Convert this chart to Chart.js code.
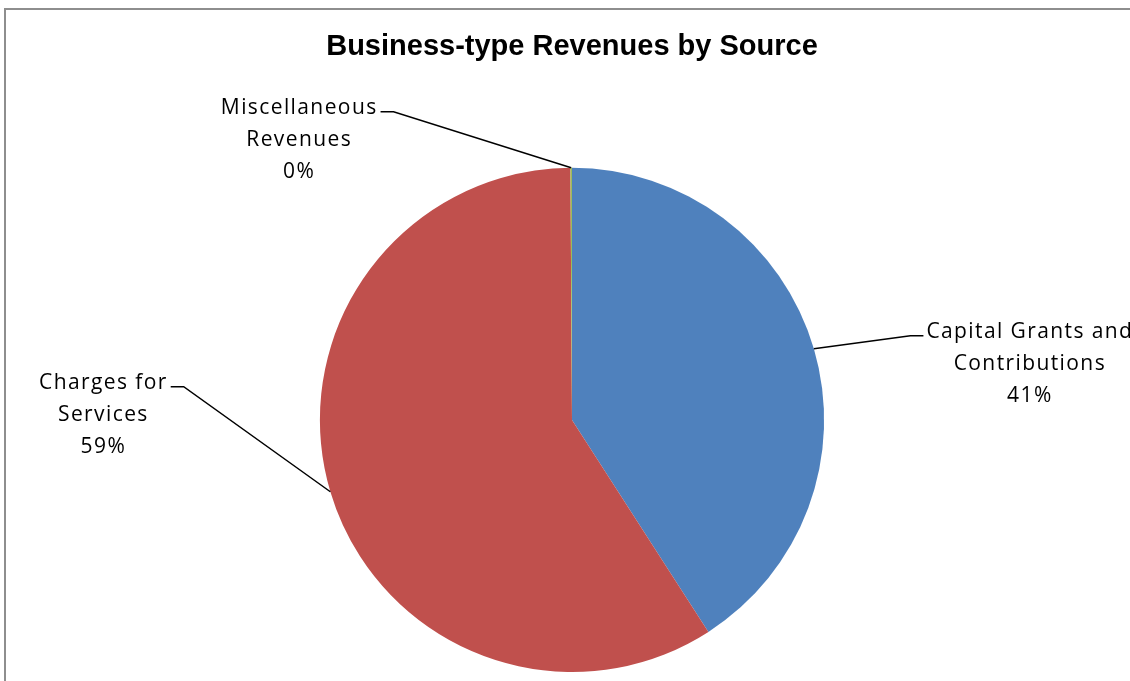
<!DOCTYPE html>
<html>
<head>
<meta charset="utf-8">
<script src="https://cdn.jsdelivr.net/npm/chart.js@4/dist/chart.umd.min.js"></script>
<style>
  html, body { margin: 0; padding: 0; background: #fff; overflow: hidden; }
  #wrap { position: relative; width: 1130px; height: 681px; }
  #frame { position: absolute; left: 4px; top: 8px; width: 1200px; height: 800px; border: 2px solid #8e8e8e; }
  #revenue-pie { position: absolute; left: 0; top: 0; }
</style>
</head>
<body>
<div id="wrap">
  <div id="frame"></div>
  <canvas id="revenue-pie" width="1130" height="681"></canvas>
</div>
<script>
// revenue sources, clockwise from 12 o'clock
const sources = ['Capital Grants and Contributions', 'Charges for Services', 'Miscellaneous Revenues'];
const labelLines = [['Capital Grants and', 'Contributions'], ['Charges for', 'Services'], ['Miscellaneous', 'Revenues']];
const shares = [40.9, 59.0, 0.1];
const sliceColors = ['#4F81BD', '#C0504D', '#9BBB59'];

// where each label block sits relative to the slice's edge point, and which side the leader enters from
const labelPlacement = [
    { dx: 216, dy: 15, side: 'left' },
    { dx: -227, dy: -77, side: 'right' },
    { dx: -272, dy: -28, side: 'right' },
];

const calloutLabels = {
    id: 'calloutLabels',
    afterDatasetsDraw(chart) {
        const ctx = chart.ctx;
        const meta = chart.getDatasetMeta(0);
        const total = shares.reduce((a, b) => a + b, 0);
        ctx.save();
        ctx.font = '21px "Open Sans"';
        ctx.letterSpacing = '1.4px';
        ctx.fillStyle = '#000';
        ctx.textAlign = 'center';
        ctx.textBaseline = 'middle';
        const lineH = 32;

        meta.data.forEach((arc, i) => {
            const { x, y, startAngle, endAngle, outerRadius } = arc.getProps(['x', 'y', 'startAngle', 'endAngle', 'outerRadius'], true);
            const mid = (startAngle + endAngle) / 2;
            const ax = x + Math.cos(mid) * outerRadius;
            const ay = y + Math.sin(mid) * outerRadius;

            const place = labelPlacement[i];
            const cx = ax + place.dx;
            const cy = ay + place.dy;
            const lines = labelLines[i].concat([Math.round(shares[i] / total * 100) + '%']);
            const top = cy - lineH * (lines.length - 1) / 2;

            lines.forEach((t, j) => ctx.fillText(t, cx, top + j * lineH));

            // leader line: edge point -> elbow -> short tick next to first line
            const w = ctx.measureText(lines[0]).width;
            const ly = top + 4;
            let tickEnd, elbow;
            if (place.side === 'left') {
                tickEnd = cx - w / 2 - 3;
                elbow = tickEnd - 13;
            } else {
                tickEnd = cx + w / 2 + 3;
                elbow = tickEnd + 13;
            }
            ctx.beginPath();
            ctx.strokeStyle = '#000';
            ctx.lineWidth = 1.5;
            ctx.moveTo(ax, ay);
            ctx.lineTo(elbow, ly);
            ctx.lineTo(tickEnd, ly);
            ctx.stroke();
        });
        ctx.restore();
    }
};

new Chart(document.getElementById('revenue-pie').getContext('2d'), {
    type: 'pie',
    data: {
        labels: sources,
        datasets: [{
            data: shares,
            backgroundColor: sliceColors,
            borderWidth: 0,
        }],
    },
    options: {
        responsive: false,
        animation: false,
        layout: { padding: { left: 200, right: 186, top: 0, bottom: 9 } },
        plugins: {
            legend: { display: false },
            tooltip: { enabled: false },
            title: {
                display: true,
                text: 'Business-type Revenues by Source',
                color: '#000',
                font: { family: '"Liberation Sans", Arial, sans-serif', size: 29, weight: 'bold', lineHeight: 1.2 },
                padding: { top: 30, bottom: 103 },
            },
        },
    },
    plugins: [calloutLabels],
});
</script>
</body>
</html>
